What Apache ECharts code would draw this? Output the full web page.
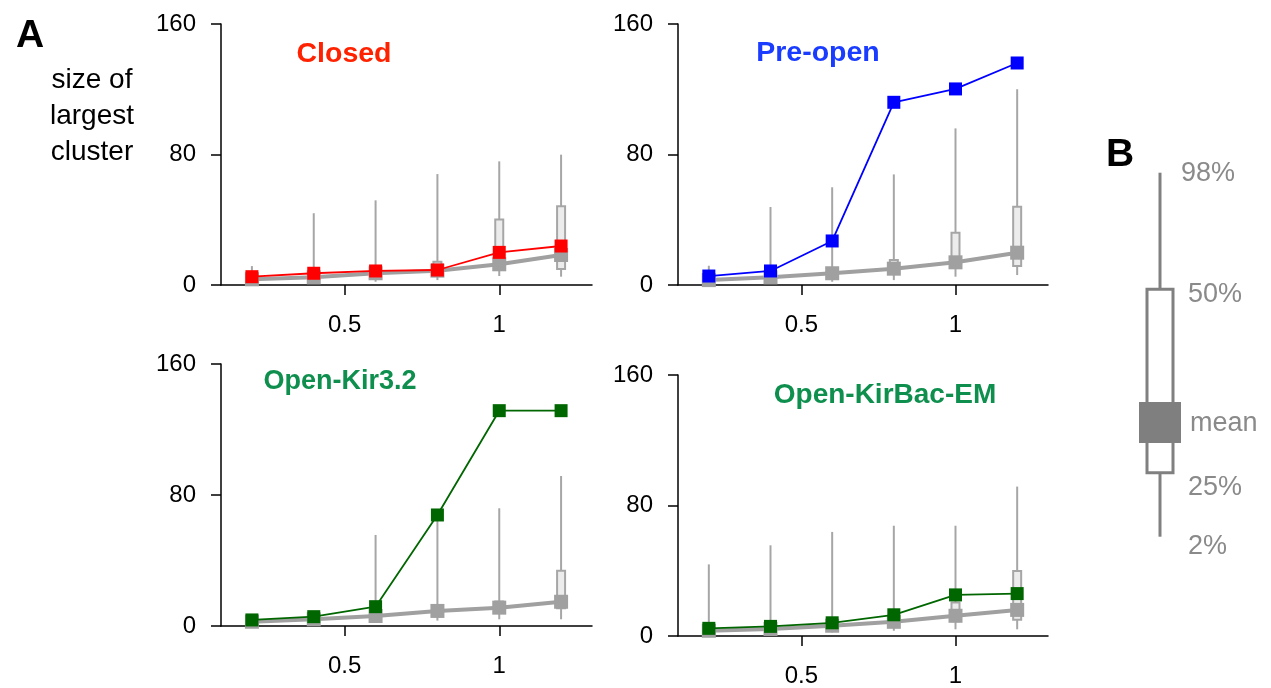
<!DOCTYPE html>
<html><head><meta charset="utf-8">
<script src="https://cdn.jsdelivr.net/npm/echarts@6/dist/echarts.min.js"></script>
<style>html,body{margin:0;padding:0;background:#fff}#chart{width:1271px;height:688px}</style>
</head><body><div id="chart"></div>
<script>
// ---------- data ----------
const xValues = [0.2, 0.4, 0.6, 0.8, 1.0, 1.2];
const xTickValues = [0.5, 1];
const panelTitles = ['Closed', 'Pre-open', 'Open-Kir3.2', 'Open-KirBac-EM'];

// highlighted (coloured) series
const closedValues  = [5.1, 7.2, 8.6, 9.2, 20.0, 23.9];
const preOpenValues = [5.5, 8.6, 27.0, 112.0, 120.2, 136.1];
const kir32Values   = [3.7, 5.7, 11.8, 67.8, 131.5, 131.5];
const kirBacValues  = [4.7, 5.9, 8.1, 13.0, 25.2, 26.0];

// grey reference distributions: mean, 2%, 25%, 50%, 98%
const closedMean = [3.5, 4.7, 7.2, 8.8, 12.7, 18.4];
const closedP2   = [1.0, 1.5, 2.0, 3.0, 5.5, 5.1];
const closedP25  = [2.0, 3.0, 5.0, 7.0, 9.2, 9.8];
const closedP50  = [5.0, 6.0, 9.0, 14.3, 40.2, 48.2];
const closedP98  = [11.6, 44.0, 51.9, 68.0, 75.8, 79.9];

const preOpenMean = [3.0, 4.7, 7.2, 10.0, 13.9, 19.8];
const preOpenP2   = [1.0, 1.5, 2.0, 3.0, 5.1, 6.1];
const preOpenP25  = [2.0, 3.0, 5.0, 7.0, 11.2, 11.6];
const preOpenP50  = [5.0, 6.0, 9.0, 15.3, 32.0, 48.0];
const preOpenP98  = [11.8, 47.8, 59.9, 67.8, 96.0, 120.0];

const kir32Mean = [2.6, 4.1, 6.1, 9.2, 11.2, 14.8];
const kir32P2   = [1.0, 1.5, 2.0, 3.3, 4.1, 4.1];
const kir32P25  = [2.0, 3.0, 4.0, 6.0, 8.0, 10.8];
const kir32P50  = [3.0, 5.0, 8.0, 12.0, 15.0, 33.8];
const kir32P98  = [6.0, 8.0, 55.6, 65.0, 71.9, 91.6];

const kirBacMean = [3.2, 4.3, 6.3, 8.7, 12.4, 16.0];
const kirBacP2   = [1.0, 1.5, 2.2, 3.2, 4.1, 4.1];
const kirBacP25  = [2.0, 3.0, 4.0, 6.0, 9.0, 9.9];
const kirBacP50  = [4.0, 6.0, 8.0, 12.0, 20.5, 39.8];
const kirBacP98  = [43.9, 55.6, 63.8, 67.6, 67.6, 91.6];

// legend (panel B) schematic levels: 2%, 25%, mean, 50%, 98%
const legendLevels = [0, 17.6, 31.4, 68, 100];
const legendLabels = ['98%', '50%', 'mean', '25%', '2%'];
const legendLabelLevels = [99.8, 66.4, 31.0, 13.6, -2.8];

// ---------- build ----------
const FONT = '"Liberation Sans", Arial, Helvetica, sans-serif';
const panels = [
  { main: closedValues,  color: '#ff0000', titleColor: '#ff2200', mean: closedMean,  p2: closedP2,  p25: closedP25,  p50: closedP50,  p98: closedP98 },
  { main: preOpenValues, color: '#0000ff', titleColor: '#1a3cff', mean: preOpenMean, p2: preOpenP2, p25: preOpenP25, p50: preOpenP50, p98: preOpenP98 },
  { main: kir32Values,   color: '#006600', titleColor: '#0e8f4e', mean: kir32Mean,   p2: kir32P2,   p25: kir32P25,   p50: kir32P50,   p98: kir32P98 },
  { main: kirBacValues,  color: '#006600', titleColor: '#0e8f4e', mean: kirBacMean,  p2: kirBacP2,  p25: kirBacP25,  p50: kirBacP50,  p98: kirBacP98 }
];

const grids = [
  { left: 221, top: 24, width: 371, height: 261 },
  { left: 678, top: 24, width: 370, height: 261 },
  { left: 221, top: 364, width: 371, height: 262 },
  { left: 678, top: 375, width: 370, height: 262 },
  { left: 1100, top: 172.7, width: 120, height: 400.4 }
];

const axisLineStyle = { color: '#000', width: 1.5 };
const xAxes = [], yAxes = [], series = [];
panels.forEach((p, i) => {
  xAxes.push({
    type: 'value', gridIndex: i, min: 0.1, max: 1.3,
    axisLine: { show: true, lineStyle: axisLineStyle, onZero: false },
    axisTick: { show: true, length: 10, lineStyle: axisLineStyle, customValues: xTickValues },
    axisLabel: { show: true, margin: 28, fontSize: 24, color: '#000', fontFamily: FONT, customValues: xTickValues },
    splitLine: { show: false }
  });
  yAxes.push({
    type: 'value', gridIndex: i, min: 0, max: 160, interval: 80,
    axisLine: { show: true, lineStyle: axisLineStyle },
    axisTick: { show: true, length: 10, lineStyle: axisLineStyle },
    axisLabel: { show: true, margin: 25, fontSize: 24, color: '#000', fontFamily: FONT },
    splitLine: { show: false }
  });
  const boxData = xValues.map((x, k) => [x, p.p2[k], p.p25[k], p.p50[k], p.p98[k]]);
  series.push({
    type: 'custom', xAxisIndex: i, yAxisIndex: i, z: 1, silent: true,
    data: boxData,
    encode: { x: 0, y: [1, 2, 3, 4] },
    renderItem: function (params, api) {
      const x = api.value(0);
      const lo = api.coord([x, api.value(1)]);
      const q1 = api.coord([x, api.value(2)]);
      const q2 = api.coord([x, api.value(3)]);
      const hi = api.coord([x, api.value(4)]);
      return {
        type: 'group', children: [
          { type: 'line', shape: { x1: lo[0], y1: lo[1], x2: hi[0], y2: hi[1] }, style: { stroke: '#a6a6a6', lineWidth: 2 } },
          { type: 'rect', shape: { x: q2[0] - 4, y: q2[1], width: 8, height: q1[1] - q2[1] }, style: { fill: '#ececec', stroke: '#a6a6a6', lineWidth: 2 } }
        ]
      };
    }
  });
  series.push({
    type: 'line', xAxisIndex: i, yAxisIndex: i, z: 2, silent: true,
    data: xValues.map((x, k) => [x, p.mean[k]]),
    symbol: 'rect', symbolSize: 14,
    itemStyle: { color: '#a0a0a0' },
    lineStyle: { color: '#a0a0a0', width: 4 }
  });
  series.push({
    type: 'line', xAxisIndex: i, yAxisIndex: i, z: 3, silent: true,
    data: xValues.map((x, k) => [x, p.main[k]]),
    symbol: 'rect', symbolSize: 13,
    itemStyle: { color: p.color },
    lineStyle: { color: p.color, width: 1.8 }
  });
});

// legend panel B
xAxes.push({ type: 'value', gridIndex: 4, min: 0, max: 1, show: false });
yAxes.push({ type: 'value', gridIndex: 4, min: -10, max: 100, show: false });
series.push({
  type: 'custom', xAxisIndex: 4, yAxisIndex: 4, silent: true,
  data: [[0.5].concat(legendLevels)],
  encode: { x: 0, y: [1, 2, 3, 4, 5] },
  renderItem: function (params, api) {
    const cx = api.coord([api.value(0), 0])[0];
    const y = k => api.coord([0.5, api.value(k)])[1];
    const yLo = y(1), yQ25 = y(2), yMean = y(3), yQ50 = y(4), yHi = y(5);
    const st = { stroke: '#808080', lineWidth: 3 };
    const children = [
      { type: 'line', shape: { x1: cx, y1: yLo, x2: cx, y2: yQ25 }, style: st },
      { type: 'line', shape: { x1: cx, y1: yQ50, x2: cx, y2: yHi }, style: st },
      { type: 'rect', shape: { x: cx - 13, y: yQ50, width: 26, height: yQ25 - yQ50 }, style: { fill: '#fff', stroke: '#808080', lineWidth: 3 } },
      { type: 'rect', shape: { x: cx - 21, y: yMean - 20.5, width: 42, height: 41 }, style: { fill: '#7f7f7f' } }
    ];
    const offs = [21, 28, 30, 28, 28];
    legendLabels.forEach((t, k) => {
      children.push({
        type: 'text', x: cx + offs[k], y: api.coord([0.5, legendLabelLevels[k]])[1],
        style: { text: t, fill: '#8a8a8a', fontSize: 27, fontFamily: FONT, align: 'left', verticalAlign: 'middle' }
      });
    });
    return { type: 'group', children: children };
  }
});

const titleCenters = [[339, 35], [813, 34], [335, 363], [880, 376]];
const titleSizes = [28.5, 28.5, 27, 28];
const titles = [
  { text: 'A', left: 11, top: 12, textStyle: { fontSize: 39, fontWeight: 'bold', color: '#000', fontFamily: FONT } },
  { text: 'B', left: 1101, top: 131, textStyle: { fontSize: 39, fontWeight: 'bold', color: '#000', fontFamily: FONT } },
  { text: 'size of\nlargest\ncluster', left: 87, top: 57, textAlign: 'center',
    textStyle: { fontSize: 28, fontWeight: 'normal', color: '#000', fontFamily: FONT, lineHeight: 36, align: 'center' } }
];
panelTitles.forEach((t, i) => {
  titles.push({ text: t, left: titleCenters[i][0], top: titleCenters[i][1], textAlign: 'center',
    textStyle: { fontSize: titleSizes[i], fontWeight: 'bold', color: panels[i].titleColor, fontFamily: FONT } });
});

const chart = echarts.init(document.getElementById('chart'));
chart.setOption({
  animation: false,
  backgroundColor: '#fff',
  title: titles,
  grid: grids,
  xAxis: xAxes,
  yAxis: yAxes,
  series: series
});
</script>
</body></html>
